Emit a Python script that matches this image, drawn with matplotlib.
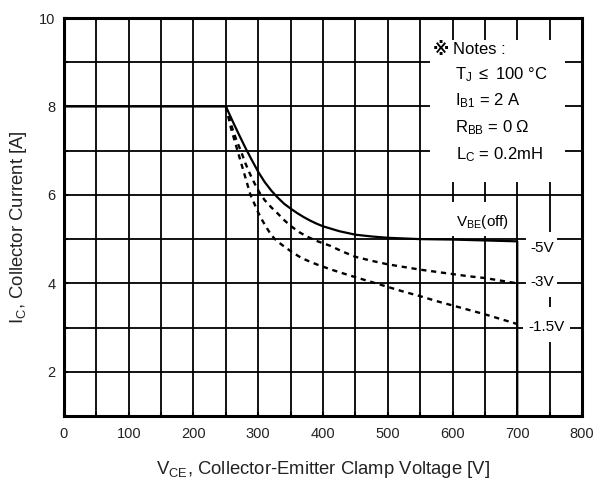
import matplotlib
matplotlib.use("Agg")
import matplotlib.pyplot as plt
from matplotlib.patches import Rectangle
from matplotlib.ticker import MultipleLocator

plt.rcParams['font.family'] = ['Liberation Sans', 'DejaVu Sans']
plt.rcParams['mathtext.fontset'] = 'custom'
plt.rcParams['mathtext.rm'] = 'Liberation Sans'
plt.rcParams['mathtext.it'] = 'Liberation Sans'

# curves (V_CE [V], I_C [A])
vce_5v = [0, 250, 260, 270, 280, 290, 300, 310, 320, 330, 340, 350, 360, 370, 380, 390, 400,
          425, 450, 475, 500, 550, 600, 650, 700, 700]
ic_5v = [8, 8, 7.68, 7.37, 7.07, 6.79, 6.52, 6.29, 6.1, 5.94, 5.8, 5.69, 5.59, 5.5, 5.42, 5.35, 5.29,
         5.18, 5.1, 5.06, 5.03, 5.0, 4.99, 4.97, 4.95, 1.0]

vce_3v = [250, 255, 260, 266, 273, 280, 288, 295, 302, 310, 320, 330, 340, 350, 363, 375, 390,
          411, 430, 450, 475, 500, 525, 550, 575, 600, 625, 650, 675, 700]
ic_3v = [8, 7.75, 7.5, 7.25, 7.0, 6.72, 6.45, 6.24, 6.05, 5.88, 5.72, 5.58, 5.43, 5.3, 5.16, 5.06, 4.96,
         4.85, 4.72, 4.6, 4.51, 4.43, 4.37, 4.31, 4.26, 4.21, 4.16, 4.12, 4.06, 4.0]

vce_15v = [250, 254, 258, 263, 268, 273, 278, 283, 288, 294, 300, 306, 312, 318, 325, 334, 343,
           355, 365, 375, 390, 411, 430, 450, 475, 500, 525, 550, 575, 600, 625, 650, 675, 700]
ic_15v = [8, 7.75, 7.5, 7.25, 7.0, 6.75, 6.5, 6.25, 6.0, 5.8, 5.6, 5.43, 5.28, 5.14, 5.01, 4.9, 4.8,
          4.68, 4.59, 4.52, 4.43, 4.32, 4.23, 4.14, 4.03, 3.92, 3.81, 3.71, 3.6, 3.5, 3.4, 3.3, 3.19, 3.08]

curve_labels = ['-5V', '-3V', '-1.5V']
notes = ['Notes :', r'T$_\mathrm{J}$ $\leq$ 100 °C', r'I$_\mathrm{B1}$ = 2 A',
         r'R$_\mathrm{BB}$ = 0 Ω', r'L$_\mathrm{C}$ = 0.2mH']

fig = plt.figure(figsize=(6.06, 4.79), dpi=100)
ax = fig.add_axes([0.1056, 0.1315, 0.8548, 0.8309])

ax.set_xlim(0, 800)
ax.set_ylim(1, 10)
ax.xaxis.set_major_locator(MultipleLocator(100))
ax.xaxis.set_minor_locator(MultipleLocator(50))
ax.set_yticks([2, 4, 6, 8, 10])
ax.yaxis.set_minor_locator(MultipleLocator(1))
ax.set_axisbelow(True)
ax.grid(which='both', color='black', lw=1.3)
ax.tick_params(which='both', direction='in', length=3, width=1.5, colors='black',
               labelcolor='#222222', labelsize=10.5)
ax.tick_params(axis='x', pad=8)
ax.tick_params(axis='y', pad=6)
for s in ax.spines.values():
    s.set_linewidth(2.2)

# white areas behind the notes and labels
ax.add_patch(Rectangle((565, 6.29), 209, 3.21, fc='white', ec='none', zorder=1))
ax.add_patch(Rectangle((596, 5.06), 97, 0.78, fc='white', ec='none', zorder=1))
ax.add_patch(Rectangle((713, 3.69), 48, 1.47, fc='white', ec='none', zorder=1))
ax.add_patch(Rectangle((709, 2.67), 72, 0.79, fc='white', ec='none', zorder=1))

ax.plot(vce_5v, ic_5v, color='black', lw=1.6, zorder=3)
ax.plot(vce_3v, ic_3v, color='black', lw=1.7, linestyle=(0, (2.2, 2)), zorder=3)
ax.plot(vce_15v, ic_15v, color='black', lw=1.7, linestyle=(0, (2.2, 2)), zorder=3)

ax.text(738, 4.8, curve_labels[0], ha='center', va='center', fontsize=11, zorder=4)
ax.text(738, 4.03, curve_labels[1], ha='center', va='center', fontsize=11, zorder=4)
ax.text(745, 3.02, curve_labels[2], ha='center', va='center', fontsize=11, zorder=4)
ax.text(646, 5.39, r'V$_\mathrm{BE}$(off)', ha='center', va='center', fontsize=11, zorder=4)

ax.text(569, 9.28, '※', ha='left', va='center', fontsize=12, fontweight='bold',
        family=['DejaVu Sans'], zorder=4)
note_y = [9.28, 8.71, 8.14, 7.51, 6.9]
note_x = [601, 604, 604, 604, 606]
for t, x, y in zip(notes, note_x, note_y):
    ax.text(x, y, t, ha='left', va='center', fontsize=12, zorder=4)

ax.set_xlabel(r'V$_\mathrm{CE}$, Collector-Emitter Clamp Voltage [V]', fontsize=13.3,
              color='#222222', labelpad=13)
ax.set_ylabel(r'I$_\mathrm{C}$, Collector Current [A]', fontsize=13.3,
              color='#222222')
ax.yaxis.set_label_coords(-0.068, 0.475)

fig.savefig('out.png', dpi=100)
